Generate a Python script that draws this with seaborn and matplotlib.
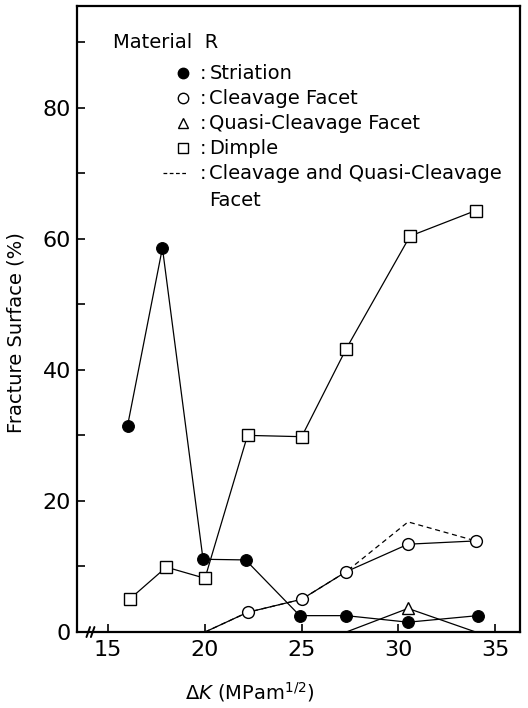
import matplotlib
matplotlib.use("Agg")
import matplotlib.pyplot as plt
import seaborn as sns
import numpy as np
from matplotlib.ticker import MultipleLocator

# ---- data ----
dK_striation = [16.0, 17.8, 19.9, 22.1, 24.9, 27.3, 30.5, 34.1]
striation = [31.5, 58.6, 11.1, 11.0, 2.5, 2.5, 1.5, 2.5]

dK_dimple = [16.1, 18.0, 20.0, 22.2, 25.0, 27.3, 30.6, 34.0]
dimple = [5.0, 9.9, 8.2, 30.0, 29.8, 43.2, 60.4, 64.3]

dK_cleavage = [20.0, 22.2, 25.0, 27.3, 30.5, 34.0]
cleavage = [0.0, 3.0, 5.0, 9.2, 13.4, 13.9]

dK_quasi = [27.3, 30.5, 34.0]
quasi = [0.0, 3.6, 0.0]

dK_total = [20.0, 22.2, 25.0, 27.3, 30.5, 34.0]
total = [0.0, 3.0, 5.0, 9.2, 16.8, 13.9]

x_ticks = [15, 20, 25, 30, 35]
y_ticks = [0, 20, 40, 60, 80]

legend_title = "Material  R"
legend_labels = ["Striation", "Cleavage Facet", "Quasi-Cleavage Facet", "Dimple",
                 "Cleavage and Quasi-Cleavage", "Facet"]

sns.set_style("ticks")
plt.rcParams["font.family"] = ["DejaVu Sans"]
plt.rcParams["text.color"] = "black"
plt.rcParams["axes.labelcolor"] = "black"
plt.rcParams["xtick.color"] = "black"
plt.rcParams["ytick.color"] = "black"
plt.rcParams["xtick.labelcolor"] = "black"
plt.rcParams["ytick.labelcolor"] = "black"

fig = plt.figure(figsize=(5.28, 7.08), dpi=100)
ax = fig.add_axes([0.1453, 0.1073, 0.8397, 0.8842])

lw = 0.9
sns.lineplot(x=dK_total, y=total, ax=ax, color="black", lw=0.9,
             linestyle=(0, (4, 3)), sort=False, estimator=None)
sns.lineplot(x=dK_quasi, y=quasi, ax=ax, color="black", lw=lw, marker="^",
             markersize=8, mfc="white", mec="black", mew=1.0, markevery=[1],
             sort=False, estimator=None)
sns.lineplot(x=dK_cleavage, y=cleavage, ax=ax, color="black", lw=lw, marker="o",
             markersize=8.5, mfc="white", mec="black", mew=1.0,
             markevery=list(range(1, len(cleavage))), sort=False, estimator=None)
sns.lineplot(x=dK_dimple, y=dimple, ax=ax, color="black", lw=lw, marker="s",
             markersize=8, mfc="white", mec="black", mew=1.0,
             sort=False, estimator=None)
sns.lineplot(x=dK_striation, y=striation, ax=ax, color="black", lw=lw, marker="o",
             markersize=8.5, mfc="black", mec="black", sort=False, estimator=None)

ax.set_xlim(13.37, 36.29)
ax.set_ylim(0, 95.5)
ax.set_xticks(x_ticks)
ax.set_yticks(y_ticks)
ax.yaxis.set_minor_locator(MultipleLocator(10))
ax.tick_params(axis="both", which="both", direction="in", labelsize=16,
               length=6, width=1.2, color="black", labelcolor="black")
ax.tick_params(axis="y", which="minor", length=6)
ax.tick_params(axis="x", pad=6)
ax.tick_params(axis="y", pad=4)
for s in ax.spines.values():
    s.set_linewidth(1.6)
    s.set_color("black")

ax.set_xlabel(r"$\mathit{\Delta K}$ (MPam$^{1/2}$)", fontsize=14, color="black")
ax.set_ylabel("Fracture Surface (%)", fontsize=14, color="black")
ax.xaxis.set_label_coords(0.391, -0.076)
ax.yaxis.set_label_coords(-0.115, 0.478)

# axis break marks on bottom spine
for xb in [0.026, 0.036]:
    ax.plot([xb - 0.004, xb + 0.004], [-0.008, 0.008], transform=ax.transAxes,
            color="black", lw=1.4, clip_on=False)

# custom legend block
fs = 14
ax.text(0.082, 0.941, legend_title, transform=ax.transAxes, fontsize=fs,
        va="center", ha="left", color="black")
rows_y = [0.893, 0.853, 0.813, 0.773, 0.733, 0.690]
mk = [("o", "black"), ("o", "white"), ("^", "white"), ("s", "white")]
for i, (m, fc) in enumerate(mk):
    ax.plot([0.240], [rows_y[i]], transform=ax.transAxes, marker=m, ms=7.5 if m != "s" else 7,
            mfc=fc, mec="black", mew=1.0, color="black", clip_on=False)
ax.plot([0.195, 0.252], [rows_y[4], rows_y[4]], transform=ax.transAxes,
        color="black", lw=0.9, linestyle=(0, (3, 2)))
for i in range(5):
    ax.text(0.285, rows_y[i], ":", transform=ax.transAxes, fontsize=fs,
            va="center", ha="center", color="black")
for i, lab in enumerate(legend_labels):
    ax.text(0.299, rows_y[i], lab, transform=ax.transAxes, fontsize=fs,
            va="center", ha="left", color="black")

fig.savefig("out.png", dpi=100)
